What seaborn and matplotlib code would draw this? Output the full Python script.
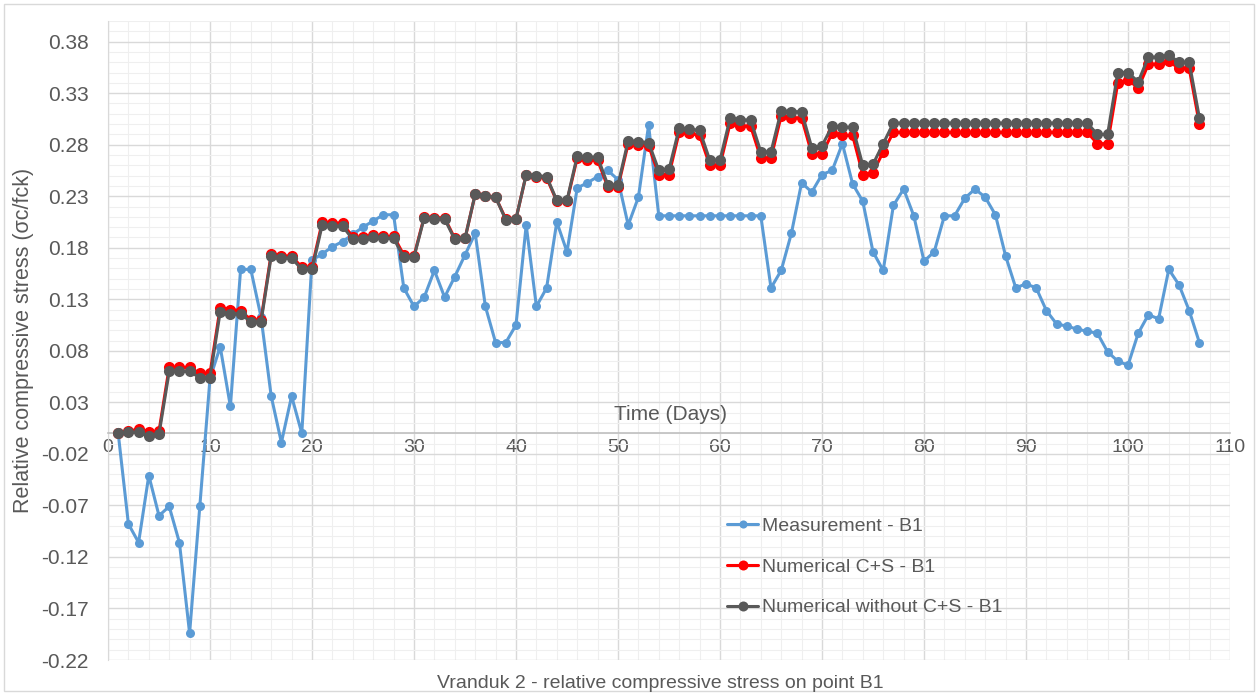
import numpy as np
import pandas as pd
import matplotlib
matplotlib.use("Agg")
import matplotlib.pyplot as plt
import seaborn as sns
from matplotlib.ticker import MultipleLocator, FixedLocator
from matplotlib.patches import Rectangle

# ---------------- data ----------------
days = list(range(1, 108))

measurement = [
    0.000, -0.088, -0.106, -0.041, -0.080, -0.071, -0.106, -0.194, -0.071, 0.053,
    0.084, 0.026, 0.159, 0.159, 0.113, 0.036, -0.009, 0.036, 0.000, 0.168,
    0.174, 0.181, 0.186, 0.193, 0.200, 0.206, 0.212, 0.212, 0.141, 0.123,
    0.132, 0.158, 0.132, 0.152, 0.173, 0.194, 0.123, 0.088, 0.088, 0.105,
    0.202, 0.123, 0.141, 0.205, 0.176, 0.238, 0.243, 0.249, 0.255, 0.246,
    0.202, 0.229, 0.299, 0.211, 0.211, 0.211, 0.211, 0.211, 0.211, 0.211,
    0.211, 0.211, 0.211, 0.211, 0.141, 0.158, 0.194, 0.243, 0.234, 0.251,
    0.255, 0.281, 0.242, 0.225, 0.176, 0.158, 0.221, 0.237, 0.211, 0.167,
    0.176, 0.211, 0.211, 0.228, 0.237, 0.229, 0.212, 0.172, 0.141, 0.145,
    0.141, 0.119, 0.106, 0.104, 0.101, 0.099, 0.097, 0.079, 0.070, 0.066,
    0.097, 0.115, 0.111, 0.159, 0.144, 0.119, 0.088,
]

numerical_cs = [
    0.000, 0.002, 0.004, 0.001, 0.002, 0.064, 0.064, 0.064, 0.058, 0.058,
    0.122, 0.120, 0.119, 0.110, 0.110, 0.174, 0.172, 0.172, 0.161, 0.161,
    0.205, 0.204, 0.204, 0.190, 0.190, 0.192, 0.191, 0.191, 0.173, 0.172,
    0.210, 0.209, 0.209, 0.189, 0.189, 0.232, 0.230, 0.229, 0.208, 0.208,
    0.251, 0.249, 0.248, 0.225, 0.225, 0.267, 0.265, 0.265, 0.239, 0.239,
    0.281, 0.280, 0.279, 0.251, 0.251, 0.292, 0.291, 0.289, 0.260, 0.260,
    0.301, 0.298, 0.298, 0.267, 0.267, 0.308, 0.306, 0.306, 0.271, 0.271,
    0.291, 0.289, 0.289, 0.251, 0.253, 0.273, 0.292, 0.292, 0.292, 0.292,
    0.292, 0.292, 0.292, 0.292, 0.292, 0.292, 0.292, 0.292, 0.292, 0.292,
    0.292, 0.292, 0.292, 0.292, 0.292, 0.292, 0.281, 0.281, 0.340, 0.343,
    0.335, 0.358, 0.358, 0.361, 0.354, 0.354, 0.300,
]

numerical_without = [
    0.000, 0.001, 0.001, -0.003, -0.001, 0.060, 0.060, 0.060, 0.054, 0.054,
    0.118, 0.116, 0.116, 0.108, 0.108, 0.172, 0.170, 0.170, 0.159, 0.159,
    0.202, 0.201, 0.201, 0.188, 0.188, 0.190, 0.189, 0.189, 0.171, 0.171,
    0.209, 0.208, 0.208, 0.188, 0.189, 0.232, 0.230, 0.229, 0.207, 0.208,
    0.251, 0.250, 0.249, 0.226, 0.226, 0.269, 0.268, 0.268, 0.241, 0.241,
    0.284, 0.283, 0.282, 0.255, 0.256, 0.296, 0.295, 0.294, 0.265, 0.265,
    0.306, 0.304, 0.304, 0.273, 0.273, 0.313, 0.312, 0.312, 0.277, 0.279,
    0.298, 0.297, 0.297, 0.260, 0.261, 0.281, 0.301, 0.301, 0.301, 0.301,
    0.301, 0.301, 0.301, 0.301, 0.301, 0.301, 0.301, 0.301, 0.301, 0.301,
    0.301, 0.301, 0.301, 0.301, 0.301, 0.301, 0.290, 0.290, 0.350, 0.350,
    0.341, 0.365, 0.365, 0.367, 0.360, 0.360, 0.306,
]

series_names = ["Measurement - B1", "Numerical C+S - B1", "Numerical without C+S - B1"]
x_ticks = [0, 10, 20, 30, 40, 50, 60, 70, 80, 90, 100, 110]
y_ticks = [-0.22, -0.17, -0.12, -0.07, -0.02, 0.03, 0.08, 0.13, 0.18, 0.23, 0.28, 0.33, 0.38]
y_tick_labels = ["-0.22", "-0.17", "-0.12", "-0.07", "-0.02", "0.03", "0.08",
                 "0.13", "0.18", "0.23", "0.28", "0.33", "0.38"]

title = "Vranduk 2 - relative compressive stress on point B1"
x_label = "Time (Days)"
y_label = "Relative compressive stress (\u03c3c/fck)"

# ---------------- style ----------------
sns.set_style("white")
plt.rcParams["font.family"] = ["Liberation Sans", "DejaVu Sans"]

W, H = 1258, 695
fig = plt.figure(figsize=(W / 100, H / 100), dpi=100)
ax = fig.add_axes([108 / W, 1 - 660 / H, (1230 - 108) / W, (660 - 21) / H])

text_col = "#595959"
colors = ["#5B9BD5", "#FF0000", "#595959"]

df = pd.DataFrame({
    "day": days * 3,
    "value": measurement + numerical_cs + numerical_without,
    "series": [series_names[0]] * len(days) + [series_names[1]] * len(days) + [series_names[2]] * len(days),
})

sizes = [6.5, 8, 8]
for name, col, ms in zip(series_names, colors, sizes):
    sub = df[df["series"] == name]
    sns.lineplot(data=sub, x="day", y="value", ax=ax, color=col, linewidth=2.2,
                 marker="o", markersize=ms, markeredgewidth=0, label=name,
                 zorder=3)

ax.set_xlim(0, 110)
ax.set_ylim(-0.22, 0.40)

ax.xaxis.set_major_locator(FixedLocator(x_ticks))
ax.xaxis.set_minor_locator(MultipleLocator(2))
ax.yaxis.set_major_locator(FixedLocator(y_ticks))
ax.set_yticklabels(y_tick_labels)
ax.yaxis.set_minor_locator(FixedLocator(np.round(np.arange(-0.22, 0.4001, 0.01), 2)))

ax.grid(which="major", color="#d9d9d9", linewidth=1.0, zorder=0)
ax.grid(which="minor", color="#efefef", linewidth=0.8, zorder=0)
ax.set_axisbelow(True)

for s in ["top", "right"]:
    ax.spines[s].set_visible(False)
ax.spines["left"].set_color("#d9d9d9")
ax.spines["bottom"].set_position(("data", 0))
ax.spines["bottom"].set_color("#bfbfbf")
ax.spines["bottom"].set_linewidth(1.2)

ax.tick_params(axis="both", which="both", length=0)
ax.tick_params(axis="x", labelsize=14, colors=text_col, pad=4)
ax.tick_params(axis="y", labelsize=15, colors=text_col, pad=14)

ax.set_xlabel("")
ax.set_ylabel("")

fig.text(670 / W, 1 - 414 / H, x_label, ha="center", va="center", fontsize=15, color=text_col)
fig.text(24 / W, 1 - 340 / H, y_label, ha="center", va="center", rotation=90, fontsize=15.5, color=text_col)
fig.text(660 / W, 1 - 683 / H, title, ha="center", va="center", fontsize=14, color=text_col)

leg = ax.legend(loc="upper left", bbox_to_anchor=(727 / W, 1 - 517 / H),
                bbox_transform=fig.transFigure, frameon=False, fontsize=14,
                handlelength=1.6, handletextpad=0.2, labelspacing=1.2,
                borderpad=0, borderaxespad=0, markerscale=0.9)
for t in leg.get_texts():
    t.set_color(text_col)

fig.patches.append(Rectangle((4 / W, 4 / H), (W - 8) / W, (H - 8) / H, transform=fig.transFigure,
                             fill=False, edgecolor="#d9d9d9", linewidth=1))

fig.savefig("out.png", dpi=100, facecolor="white")
